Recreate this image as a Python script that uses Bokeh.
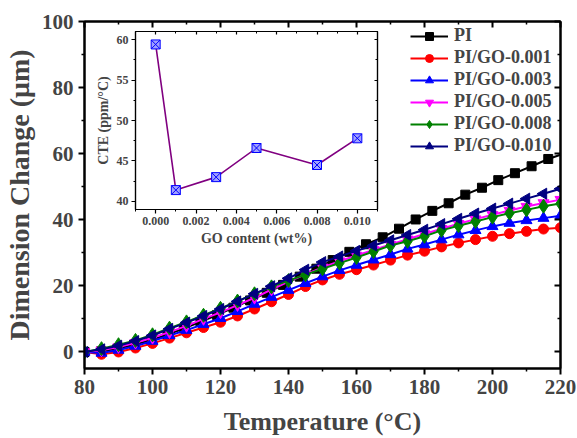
import math
from bokeh.plotting import figure
from bokeh.models import (Range1d, LinearAxis, FixedTicker, Legend, LegendItem,
                          GridBox, PrintfTickFormatter)
from bokeh.embed import file_html
from bokeh.resources import INLINE

FONT = "Liberation Serif"

# ---------------- data ----------------
pi_temp = [80.0, 84.9, 89.7, 94.6, 99.5, 104.4, 109.2, 114.1, 119.0, 123.8,
           128.7, 133.6, 138.4, 143.3, 148.2, 153.0, 157.9, 162.8, 167.7, 172.5,
           177.4, 182.3, 187.1, 192.0, 196.9, 201.7, 206.6, 211.5, 216.4, 220.0]
pi_dim = [0, 0.2, 1.0, 2.2, 3.6, 5.3, 7.1, 9.1, 11.2, 13.4,
          15.6, 17.9, 20.3, 22.8, 25.2, 27.8, 30.3, 32.6, 34.7, 37.3,
          40.1, 42.7, 45.0, 47.6, 49.7, 52.0, 54.1, 56.2, 58.4, 59.7]

go_temp = [80, 85, 90, 95, 100, 105, 110, 115, 120, 125, 130, 135, 140, 145, 150,
           155, 160, 165, 170, 175, 180, 185, 190, 195, 200, 205, 210, 215, 220]
go001 = [0, -0.7, 0.0, 1.2, 2.6, 4.2, 5.8, 7.4, 9.0, 10.9, 13.0, 15.2, 17.4, 19.8, 21.8,
         23.5, 24.9, 26.3, 27.8, 29.3, 30.5, 31.8, 33.0, 34.0, 35.0, 35.8, 36.5, 37.2, 37.6]
go003 = [0, -0.3, 0.6, 1.8, 3.3, 5.0, 6.6, 8.4, 10.2, 12.3, 14.5, 16.6, 18.7, 20.8, 22.8,
         24.7, 26.3, 27.9, 29.5, 31.2, 32.5, 34.0, 35.5, 36.8, 38.0, 39.0, 39.8, 40.5, 41.2]
go005 = [0, 0.5, 1.5, 2.8, 4.3, 6.0, 7.9, 10.0, 12.0, 14.2, 16.4, 18.9, 21.3, 23.5, 25.6,
         27.5, 29.2, 30.9, 32.5, 34.1, 35.7, 37.3, 38.8, 40.2, 41.5, 42.8, 44.0, 45.1, 46.1]
go008 = [0, 1.0, 2.2, 3.5, 5.2, 7.2, 9.1, 11.1, 13.2, 15.4, 17.6, 19.7, 21.6, 23.4, 25.2,
         26.9, 28.6, 30.4, 32.2, 33.5, 35.0, 36.8, 38.2, 39.5, 40.8, 42.0, 43.0, 44.1, 44.9]
go010 = [0, 0.8, 1.9, 3.3, 5.0, 7.0, 8.9, 10.9, 13.0, 15.3, 17.6, 19.9, 22.3, 24.9, 27.2,
         28.9, 30.6, 32.2, 33.8, 35.4, 37.0, 38.7, 40.3, 41.9, 43.4, 44.9, 46.4, 47.9, 49.4]

series_labels = ["PI", "PI/GO-0.001", "PI/GO-0.003", "PI/GO-0.005", "PI/GO-0.008", "PI/GO-0.010"]

x_ticks = [80, 100, 120, 140, 160, 180, 200, 220]
x_minor = [90, 110, 130, 150, 170, 190, 210]
y_ticks = [0, 20, 40, 60, 80, 100]
y_minor = [-10, 10, 30, 50, 70, 90]

go_content = [0.000, 0.001, 0.003, 0.005, 0.008, 0.010]
cte = [59.4, 41.4, 43.0, 46.6, 44.5, 47.8]
ins_x_ticks = [0.000, 0.002, 0.004, 0.006, 0.008, 0.010]
ins_x_minor = [-0.001, 0.001, 0.003, 0.005, 0.007, 0.009, 0.011]
ins_y_ticks = [40, 45, 50, 55, 60]
ins_y_minor = [42.5, 47.5, 52.5, 57.5]

# ---------------- main figure ----------------
p = figure(width=577, height=438, x_range=Range1d(80, 220), y_range=Range1d(-5, 100),
           output_backend="svg", toolbar_location=None,
           min_border_left=84, min_border_right=17, min_border_top=21, min_border_bottom=69,
           x_axis_label="Temperature (°C)", y_axis_label="Dimension Change (μm)")
p.xgrid.visible = False
p.ygrid.visible = False
p.outline_line_color = "black"
p.outline_line_width = 2
p.background_fill_color = "white"
p.border_fill_color = "white"


def style_axis(ax, ticks, minor, title_size, label_size, show_labels=True, inward=False):
    ax.ticker = FixedTicker(ticks=ticks, minor_ticks=minor)
    ax.axis_line_width = 2
    ax.major_tick_line_width = 2
    ax.minor_tick_line_width = 1.5
    if inward:
        ax.major_tick_in, ax.major_tick_out = 6, 0
        ax.minor_tick_in, ax.minor_tick_out = 3, 0
    else:
        ax.major_tick_in, ax.major_tick_out = 0, 6
        ax.minor_tick_in, ax.minor_tick_out = 0, 3
    ax.major_label_text_font = FONT
    ax.major_label_text_font_style = "bold"
    ax.major_label_text_font_size = label_size
    ax.axis_label_text_font = FONT
    ax.axis_label_text_font_style = "bold"
    ax.axis_label_text_font_size = title_size
    if not show_labels:
        ax.major_label_text_color = None


style_axis(p.xaxis[0], x_ticks, x_minor, "26px", "21px")
style_axis(p.yaxis[0], y_ticks, y_minor, "28px", "21px")
p.xaxis[0].major_label_standoff = 5
p.xaxis[0].axis_label_standoff = 10
p.yaxis[0].major_label_standoff = 5
p.yaxis[0].axis_label_standoff = 4

rax = LinearAxis()
style_axis(rax, y_ticks, y_minor, "10px", "10px", show_labels=False, inward=True)
p.add_layout(rax, "right")
tax = LinearAxis()
style_axis(tax, x_ticks, x_minor, "10px", "10px", show_labels=False, inward=True)
p.add_layout(tax, "above")

items = []
# PI
l0 = p.line(pi_temp, pi_dim, line_color="black", line_width=2)
s0 = p.scatter(pi_temp[:-1], pi_dim[:-1], marker="square", size=9,
               fill_color="black", line_color="black")
items.append(LegendItem(label=series_labels[0], renderers=[l0, s0]))

specs = [
    (go001, "#ff0000", "circle", 10, 0.0),
    (go003, "#0000ff", "triangle", 11, 0.0),
    (go005, "#ff00ff", "inverted_triangle", 11, 0.0),
    (go008, "#008000", "diamond", 14, 0.0),
    (go010, "#000080", "triangle", 11, math.pi / 2),
]
for (vals, col, mk, sz, ang), lab in zip(specs, series_labels[1:]):
    lr = p.line(go_temp, vals, line_color=col, line_width=2)
    sr = p.scatter(go_temp, vals, marker=mk, size=sz, angle=ang,
                   fill_color=col, line_color=col)
    items.append(LegendItem(label=lab, renderers=[lr, sr]))

legend = Legend(items=items, location=(326, 212))
legend.label_text_font = FONT
legend.label_text_font_style = "bold"
legend.label_text_font_size = "18px"
legend.glyph_width = 38
legend.glyph_height = 20
legend.label_height = 20
legend.spacing = 1
legend.padding = 0
legend.margin = 0
legend.label_standoff = 6
legend.border_line_color = None
legend.background_fill_alpha = 0
p.add_layout(legend)

# ---------------- inset ----------------
ins = figure(width=290, height=222, x_range=Range1d(-0.001, 0.011), y_range=Range1d(39, 61),
             output_backend="svg", toolbar_location=None,
             min_border_left=41, min_border_right=5, min_border_top=5, min_border_bottom=39,
             x_axis_label="GO content (wt%)", y_axis_label="CTE (ppm/°C)")
ins.xgrid.visible = False
ins.ygrid.visible = False
ins.outline_line_color = "black"
ins.outline_line_width = 1.2
ins.background_fill_color = "white"
ins.border_fill_alpha = 0


def style_inset_axis(ax, ticks, minor, show_labels=True, inward=False):
    ax.ticker = FixedTicker(ticks=ticks, minor_ticks=minor)
    ax.axis_line_width = 1.2
    ax.major_tick_line_width = 1.2
    ax.minor_tick_line_width = 1
    if inward:
        ax.major_tick_in, ax.major_tick_out = 3, 0
        ax.minor_tick_in, ax.minor_tick_out = 2, 0
    else:
        ax.major_tick_in, ax.major_tick_out = 0, 4
        ax.minor_tick_in, ax.minor_tick_out = 0, 2
    ax.major_label_text_font = FONT
    ax.major_label_text_font_style = "bold"
    ax.major_label_text_font_size = "12px"
    ax.axis_label_text_font = FONT
    ax.axis_label_text_font_style = "bold"
    ax.axis_label_text_font_size = "14px"
    ax.major_label_standoff = 3
    ax.axis_label_standoff = 3
    if not show_labels:
        ax.major_label_text_color = None


style_inset_axis(ins.xaxis[0], ins_x_ticks, ins_x_minor)
ins.xaxis[0].formatter = PrintfTickFormatter(format="%.3f")
style_inset_axis(ins.yaxis[0], ins_y_ticks, ins_y_minor)
irax = LinearAxis()
style_inset_axis(irax, ins_y_ticks, ins_y_minor, show_labels=False, inward=True)
ins.add_layout(irax, "right")
itax = LinearAxis()
style_inset_axis(itax, ins_x_ticks, ins_x_minor, show_labels=False, inward=True)
ins.add_layout(itax, "above")

ins.line(go_content, cte, line_color="#800080", line_width=1.6)
ins.scatter(go_content, cte, marker="square_x", size=9, line_color="#0000ff",
            fill_color="#a0a0ff", line_width=1)

grid = GridBox(children=[(p, 0, 0, 3, 3), (ins, 1, 1, 1, 1)],
               rows=["26px", "222px", "190px"], cols=["92px", "290px", "195px"])

open("out.html", "w").write(file_html(grid, INLINE))
